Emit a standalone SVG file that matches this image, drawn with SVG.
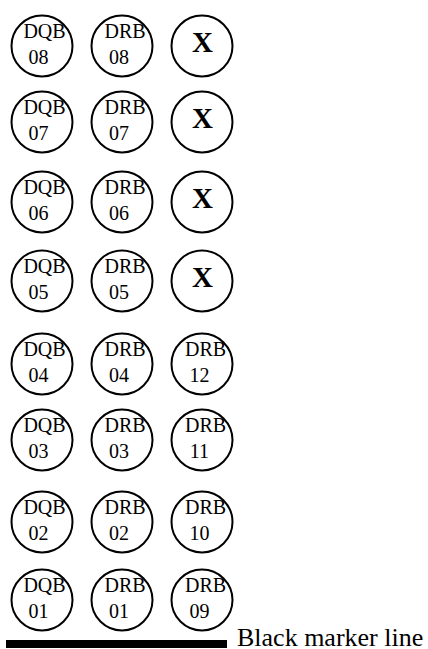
<svg xmlns="http://www.w3.org/2000/svg" width="428" height="649" viewBox="0 0 428 649">
<style>
.c{fill:#fff;stroke:#000;stroke-width:2}
text{fill:#000}
.t{font-size:20px;text-anchor:middle}
.x{font-size:29px;font-weight:bold;text-anchor:middle}
.lg{font-size:26px}
</style>
<rect width="428" height="649" fill="#fff"/>
<g id="connectors"></g>
<g font-family="'Liberation Serif', 'Times New Roman', Times, 'DejaVu Serif', serif">
<g id="DQB08"><circle class="c" cx="42" cy="46" r="30.5"/><text class="t" x="44.5" y="38">DQB</text><text class="t" x="38.5" y="64">08</text></g>
<g id="DRB08"><circle class="c" cx="122" cy="46" r="30.5"/><text class="t" x="125" y="38">DRB</text><text class="t" x="119" y="64">08</text></g>
<g id="X1"><circle class="c" cx="202" cy="46" r="30.5"/><text class="x" x="202.5" y="52">X</text></g>
<g id="DQB07"><circle class="c" cx="42" cy="122" r="30.5"/><text class="t" x="44.5" y="114">DQB</text><text class="t" x="38.5" y="140">07</text></g>
<g id="DRB07"><circle class="c" cx="122" cy="122" r="30.5"/><text class="t" x="125" y="114">DRB</text><text class="t" x="119" y="140">07</text></g>
<g id="X2"><circle class="c" cx="202" cy="122" r="30.5"/><text class="x" x="202.5" y="128">X</text></g>
<g id="DQB06"><circle class="c" cx="42" cy="202" r="30.5"/><text class="t" x="44.5" y="194">DQB</text><text class="t" x="38.5" y="220">06</text></g>
<g id="DRB06"><circle class="c" cx="122" cy="202" r="30.5"/><text class="t" x="125" y="194">DRB</text><text class="t" x="119" y="220">06</text></g>
<g id="X3"><circle class="c" cx="202" cy="202" r="30.5"/><text class="x" x="202.5" y="208">X</text></g>
<g id="DQB05"><circle class="c" cx="42" cy="281" r="30.5"/><text class="t" x="44.5" y="273">DQB</text><text class="t" x="38.5" y="299">05</text></g>
<g id="DRB05"><circle class="c" cx="122" cy="281" r="30.5"/><text class="t" x="125" y="273">DRB</text><text class="t" x="119" y="299">05</text></g>
<g id="X4"><circle class="c" cx="202" cy="281" r="30.5"/><text class="x" x="202.5" y="287">X</text></g>
<g id="DQB04"><circle class="c" cx="42" cy="364" r="30.5"/><text class="t" x="44.5" y="356">DQB</text><text class="t" x="38.5" y="382">04</text></g>
<g id="DRB04"><circle class="c" cx="122" cy="364" r="30.5"/><text class="t" x="125" y="356">DRB</text><text class="t" x="119" y="382">04</text></g>
<g id="DRB12"><circle class="c" cx="202" cy="364" r="30.5"/><text class="t" x="205.5" y="356">DRB</text><text class="t" x="199.5" y="382">12</text></g>
<g id="DQB03"><circle class="c" cx="42" cy="440" r="30.5"/><text class="t" x="44.5" y="432">DQB</text><text class="t" x="38.5" y="458">03</text></g>
<g id="DRB03"><circle class="c" cx="122" cy="440" r="30.5"/><text class="t" x="125" y="432">DRB</text><text class="t" x="119" y="458">03</text></g>
<g id="DRB11"><circle class="c" cx="202" cy="440" r="30.5"/><text class="t" x="205.5" y="432">DRB</text><text class="t" x="199.5" y="458">11</text></g>
<g id="DQB02"><circle class="c" cx="42" cy="522" r="30.5"/><text class="t" x="44.5" y="514">DQB</text><text class="t" x="38.5" y="540">02</text></g>
<g id="DRB02"><circle class="c" cx="122" cy="522" r="30.5"/><text class="t" x="125" y="514">DRB</text><text class="t" x="119" y="540">02</text></g>
<g id="DRB10"><circle class="c" cx="202" cy="522" r="30.5"/><text class="t" x="205.5" y="514">DRB</text><text class="t" x="199.5" y="540">10</text></g>
<g id="DQB01"><circle class="c" cx="42" cy="600" r="30.5"/><text class="t" x="44.5" y="592">DQB</text><text class="t" x="38.5" y="618">01</text></g>
<g id="DRB01"><circle class="c" cx="122" cy="600" r="30.5"/><text class="t" x="125" y="592">DRB</text><text class="t" x="119" y="618">01</text></g>
<g id="DRB09"><circle class="c" cx="202" cy="600" r="30.5"/><text class="t" x="205.5" y="592">DRB</text><text class="t" x="199.5" y="618">09</text></g>
<g id="legend"><rect x="6" y="640" width="221" height="8" fill="#000"/><text class="lg" x="237" y="646">Black marker line</text></g>
</g>
</svg>
